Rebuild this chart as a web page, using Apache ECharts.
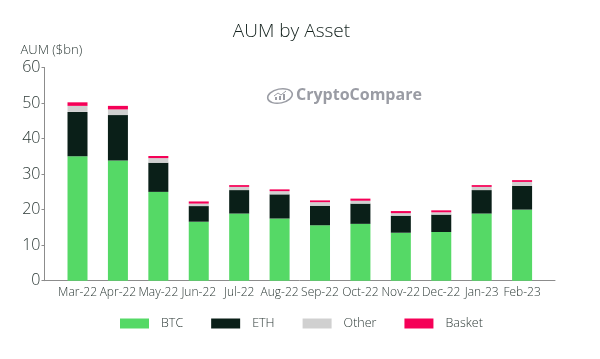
<!DOCTYPE html>
<html><head><meta charset="utf-8">
<style>html,body{margin:0;padding:0;background:#fff}#c{width:600px;height:359px}</style>
<script src="https://cdn.jsdelivr.net/npm/echarts@6/dist/echarts.min.js"></script>
</head><body><div id="c"></div>
<script>
const categories = ['Mar-22','Apr-22','May-22','Jun-22','Jul-22','Aug-22','Sep-22','Oct-22','Nov-22','Dec-22','Jan-23','Feb-23'];
const btc    = [35.0,33.8,25.0,16.6,18.9,17.5,15.6,16.0,13.5,13.7,18.9,20.0];
const eth    = [12.5,12.8,8.2,4.4,6.6,6.8,5.5,5.7,4.8,4.9,6.6,6.7];
const other  = [1.7,1.6,1.3,0.7,0.9,0.9,1.0,0.8,0.7,0.65,0.9,1.1];
const basket = [1.0,1.0,0.6,0.6,0.5,0.5,0.5,0.6,0.6,0.55,0.5,0.5];
const yTicks = {min:0,max:60,interval:10};
const textCol = '#2c3936', axisCol = '#8c8c8c';
const font = '"Open Sans"';
const mk = (name,data,color)=>({name,type:'bar',stack:'a',data,barWidth:20,itemStyle:{color},xAxisIndex:0,yAxisIndex:0});
const chart = echarts.init(document.getElementById('c'),null,{renderer:'canvas'});
chart.setOption({
  animation:false,
  backgroundColor:'#fff',
  title:{text:'AUM by Asset',left:286.5,top:17,textAlign:'center',textStyle:{fontFamily:font,fontWeight:300,fontSize:19,color:'#14221e'}},
  legend:{left:115,top:312,itemWidth:29,itemHeight:10,itemGap:28,icon:'rect',
    data:['BTC','ETH','Other','Basket'],
    textStyle:{fontFamily:font,fontWeight:300,fontSize:12.5,color:textCol,padding:[1,0,0,7]}},
  grid:[
    {left:57.3,width:485,top:67.5,height:213.2},
    {left:44.5,width:510.5,top:67.5,height:213.2}
  ],
  xAxis:[
    {type:'category',gridIndex:0,data:categories,axisLine:{show:false},
     axisTick:{alignWithLabel:true,length:3,lineStyle:{color:axisCol}},
     axisLabel:{interval:0,margin:6,fontFamily:font,fontSize:12,fontWeight:300,color:textCol}},
    {type:'value',gridIndex:1,min:0,max:1,axisLine:{show:true,lineStyle:{color:axisCol,width:1}},
     axisTick:{show:false},axisLabel:{show:false},splitLine:{show:false}}
  ],
  yAxis:[
    {type:'value',gridIndex:0,min:yTicks.min,max:yTicks.max,interval:yTicks.interval,show:false},
    {type:'value',gridIndex:1,min:yTicks.min,max:yTicks.max,interval:yTicks.interval,
     name:'AUM ($bn)',nameLocation:'end',nameGap:11,
     nameTextStyle:{fontFamily:font,fontWeight:300,fontSize:13,color:textCol,align:'left',padding:[0,0,0,-24]},
     axisLine:{show:true,lineStyle:{color:axisCol,width:1}},
     axisTick:{show:true,length:3,lineStyle:{color:axisCol}},
     axisLabel:{margin:4,fontFamily:font,fontWeight:300,fontSize:16,color:textCol},
     splitLine:{show:false}}
  ],
  series:[mk('BTC',btc,'#55D966'),mk('ETH',eth,'#0A1F18'),mk('Other',other,'#D0D0D0'),mk('Basket',basket,'#F50057')],
  graphic:[
    {type:'ellipse',shape:{cx:280,cy:96,rx:12.5,ry:7},rotation:0.2,originX:280,originY:96,style:{fill:'none',stroke:'#9a9ca4',lineWidth:1.5}},
    {type:'polyline',shape:{points:[[274,96],[278,93],[281,95],[286,91]]},style:{fill:'none',stroke:'#9a9ca4',lineWidth:1}},
    {type:'rect',shape:{x:275,y:97,width:2,height:3},style:{fill:'#9a9ca4'}},
    {type:'rect',shape:{x:279,y:96,width:2,height:4},style:{fill:'#9a9ca4'}},
    {type:'rect',shape:{x:283,y:94,width:2,height:6},style:{fill:'#9a9ca4'}},
    {type:'text',left:296,top:87.5,style:{text:'CryptoCompare',fontFamily:font,fontWeight:700,fontSize:16,fill:'#9a9ca4'}}
  ]
});
</script></body></html>
